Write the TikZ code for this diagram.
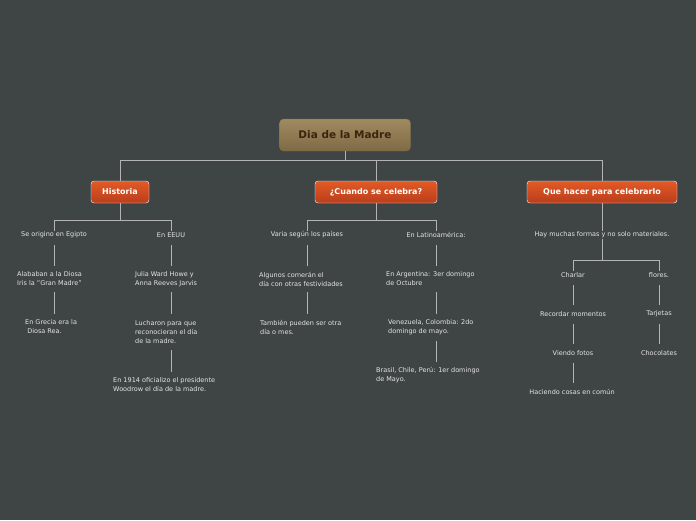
\documentclass[tikz,border=0pt]{standalone}
\usepackage{fontspec}
\setmainfont{DejaVu Sans}
\definecolor{bg}{HTML}{3F4444}
\definecolor{tx}{HTML}{E6E6E6}
\definecolor{lnc}{HTML}{B4B4B4}
\definecolor{ot}{HTML}{E35A25}
\definecolor{ob}{HTML}{B83E1C}
\definecolor{rt}{HTML}{A08A60}
\definecolor{rb}{HTML}{7E6A45}
\definecolor{rtx}{HTML}{3A2410}
\begin{document}
\begin{tikzpicture}[x=1pt,y=-1pt,
  txt/.style={text=tx, font=\fontsize{6.5}{9}\selectfont, inner sep=1pt, align=left},
  main/.style={draw=white, rounded corners=3pt, top color=ot, bottom color=ob, text=white, font=\bfseries\fontsize{8}{9}\selectfont, minimum height=22pt, inner xsep=7pt},
  ln/.style={draw=lnc, line width=0.8pt}]
\fill[bg] (0,0) rectangle (696,520);
\useasboundingbox (0,0) rectangle (696,520);
\node[rounded corners=4pt, top color=rt, bottom color=rb, draw=rb, text=rtx, font=\bfseries\fontsize{10.5}{11}\selectfont, minimum width=131pt, minimum height=32pt] (root) at (345,135) {Dia de la Madre};
\node[main, minimum width=58pt] (h) at (120,192) {Historia};
\node[main, minimum width=122pt] (c) at (376,192) {¿Cuando se celebra?};
\node[main, minimum width=150pt] (q) at (602,192) {Que hacer para celebrarlo};
\draw[ln] (root.south) -- (345,160);
\draw[ln] (h.north) -- (120,160) -- (602,160) -- (q.north);
\draw[ln] (c.north) -- (376,160);
% Historia
\node[txt] (h1) at (54,235) {Se origino en Egipto};
\node[txt] (h2) at (171,235) {En EEUU};
\node[txt,anchor=west] (h11) at (16,279) {Alababan a la Diosa\\Iris la "Gran Madre"};
\node[txt,anchor=west] (h12) at (24,327) {En Grecia era la\\\ Diosa Rea.};
\node[txt,anchor=west] (h21) at (134,279) {Julia Ward Howe y\\Anna Reeves Jarvis};
\node[txt,anchor=west] (h22) at (134,332) {Lucharon para que\\reconocieran el día\\de la madre.};
\node[txt,anchor=west] (h23) at (112,385) {En 1914 oficializo el presidente\\Woodrow el día de la madre.};
\draw[ln] (h.south) -- (120,220);
\draw[ln] (h1.north) -- (54,220) -- (171,220) -- (h2.north);
\draw[ln] (54,245) -- (54,266);
\draw[ln] (54,292) -- (54,314);
\draw[ln] (171,245) -- (171,266);
\draw[ln] (171,292) -- (171,314);
\draw[ln] (171,350) -- (171,372);
% Cuando
\node[txt] (c1) at (307,235) {Varia según los países};
\node[txt] (c2) at (436,235) {En Latinoamérica:};
\node[txt,anchor=west] (c11) at (258,279) {Algunos comerán el\\día con otras festividades};
\node[txt,anchor=west] (c12) at (259,327) {También pueden ser otra\\día o mes.};
\node[txt,anchor=west] (c21) at (385,279) {En Argentina: 3er domingo\\de Octubre};
\node[txt,anchor=west] (c22) at (387,327) {Venezuela, Colombia: 2do\\domingo de mayo.};
\node[txt,anchor=west] (c23) at (375,375) {Brasil, Chile, Perú: 1er domingo\\de Mayo.};
\draw[ln] (c.south) -- (376,220);
\draw[ln] (c1.north) -- (307,220) -- (436,220) -- (c2.north);
\draw[ln] (307,245) -- (307,266);
\draw[ln] (307,292) -- (307,314);
\draw[ln] (436,245) -- (436,266);
\draw[ln] (436,292) -- (436,314);
\draw[ln] (436,341) -- (436,362);
% Que hacer
\node[txt] (q1) at (602,235) {Hay muchas formas y no solo materiales.};
\node[txt] (qa) at (573,275) {Charlar};
\node[txt] (qb) at (659,275) {flores.};
\node[txt] (qa1) at (573,314) {Recordar momentos};
\node[txt] (qa2) at (573,353) {Viendo fotos};
\node[txt] (qa3) at (572,392) {Haciendo cosas en común};
\node[txt] (qb1) at (659,314) {Tarjetas};
\node[txt] (qb2) at (659,353) {Chocolates};
\draw[ln] (q.south) -- (q1.north);
\draw[ln] (q1.south) -- (602,260);
\draw[ln] (qa.north) -- (573,260) -- (659,260) -- (qb.north);
\draw[ln] (573,285) -- (573,305);
\draw[ln] (573,324) -- (573,344);
\draw[ln] (573,363) -- (573,383);
\draw[ln] (659,285) -- (659,305);
\draw[ln] (659,324) -- (659,344);
\end{tikzpicture}
\end{document}
